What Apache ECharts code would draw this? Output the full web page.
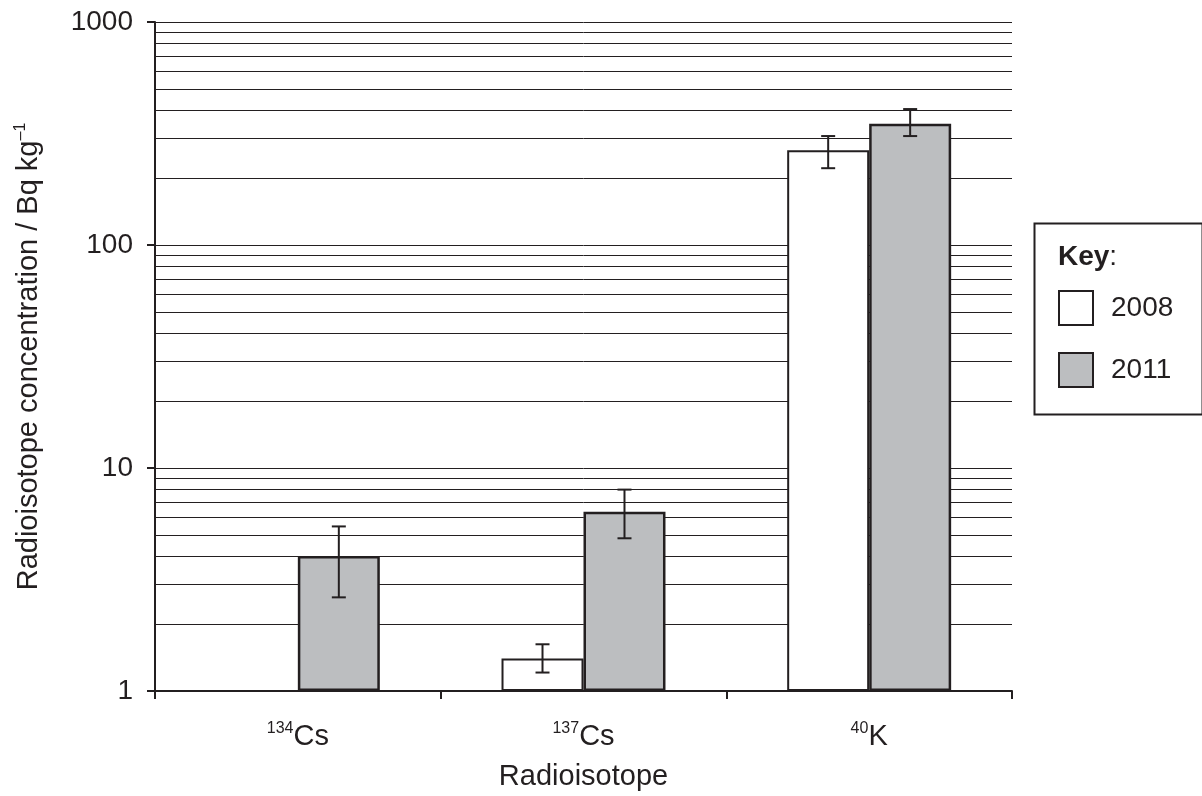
<!DOCTYPE html>
<html>
<head>
<meta charset="utf-8">
<script src="https://cdn.jsdelivr.net/npm/echarts@6/dist/echarts.min.js"></script>
<style>html,body{margin:0;padding:0;background:#fff}#c{width:1202px;height:796px}</style>
</head>
<body>
<div id="c"></div>
<script>
const categories = ['{s|134}{m|Cs}', '{s|137}{m|Cs}', '{s|40}{m|K}'];
const seriesNames = ['2008', '2011'];
const values2008 = [null, 1.40, 266];
const values2011 = [4.03, 6.37, 350];
const errLow2008 = [null, 1.21, 221];
const errHigh2008 = [null, 1.62, 308];
const errLow2011 = [2.63, 4.84, 308];
const errHigh2011 = [5.47, 8.0, 407];
const minorGrid = [2,3,4,5,6,7,8,9,20,30,40,50,60,70,80,90,200,300,400,500,600,700,800,900];

const INK = '#231f20';
const FONT = '"Liberation Sans", Arial, sans-serif';
const BARW = 0.287;

function errData(lo, hi) {
  const out = [];
  for (let i = 0; i < lo.length; i++) if (lo[i] != null) out.push([i, lo[i], hi[i]]);
  return out;
}
function errRender(sign) {
  return function (params, api) {
    const i = api.value(0);
    const band = api.size([1, 0])[0];
    const off = sign * band * BARW / 2;
    const p1 = api.coord([i, api.value(1)]);
    const p2 = api.coord([i, api.value(2)]);
    const x = p1[0] + off;
    const cap = 7;
    const st = { stroke: INK, lineWidth: 2 };
    return {
      type: 'group',
      children: [
        { type: 'line', shape: { x1: x, y1: p1[1], x2: x, y2: p2[1] }, style: st },
        { type: 'line', shape: { x1: x - cap, y1: p1[1], x2: x + cap, y2: p1[1] }, style: st },
        { type: 'line', shape: { x1: x - cap, y1: p2[1], x2: x + cap, y2: p2[1] }, style: st }
      ]
    };
  };
}

const chart = echarts.init(document.getElementById('c'), null, { renderer: 'canvas' });
chart.setOption({
  animation: false,
  backgroundColor: '#fff',
  textStyle: { fontFamily: FONT, color: INK },
  grid: { left: 155, right: 190, top: 22, bottom: 104 },
  xAxis: {
    type: 'category',
    data: categories,
    name: 'Radioisotope',
    nameLocation: 'middle',
    nameGap: 71,
    nameTextStyle: { fontSize: 29, color: INK, fontFamily: FONT },
    axisLine: { lineStyle: { color: INK, width: 2 } },
    axisTick: { show: true, length: 8, lineStyle: { color: INK, width: 2 } },
    axisLabel: {
      margin: 30,
      formatter: v => v,
      rich: {
        s: { fontSize: 16, color: INK, fontFamily: FONT, verticalAlign: 'top', padding: [0, 0, 15, 0] },
        m: { fontSize: 29, color: INK, fontFamily: FONT }
      }
    },
    splitLine: { show: false }
  },
  yAxis: {
    type: 'log',
    logBase: 10,
    min: 1,
    max: 1000,
    name: 'Radioisotope concentration / Bq kg{s|–1}',
    nameLocation: 'middle',
    nameRotate: 90,
    nameGap: 111,
    nameTextStyle: {
      fontSize: 29, color: INK, fontFamily: FONT,
      rich: {
        s: { fontSize: 16, color: INK, fontFamily: FONT, padding: [0, 0, 15, 0] }
      }
    },
    axisLine: { show: true, lineStyle: { color: INK, width: 2 } },
    axisTick: { show: true, length: 8, lineStyle: { color: INK, width: 2 } },
    axisLabel: { fontSize: 28, color: INK, fontFamily: FONT, margin: 22, formatter: v => String(v) },
    splitLine: { show: true, lineStyle: { color: INK, width: 1 } }
  },
  legend: {
    orient: 'vertical',
    left: 1058,
    top: 290,
    padding: 0,
    itemWidth: 34,
    itemHeight: 34,
    itemGap: 26,
    icon: 'rect',
    data: seriesNames,
    textStyle: { fontSize: 28, color: INK, fontFamily: FONT, padding: [0, 0, 0, 13] }
  },
  graphic: [
    { type: 'rect', left: 1032, top: 221, shape: { width: 168, height: 191 }, style: { fill: 'none', stroke: INK, lineWidth: 2 } },
    { type: 'text', left: 1058, top: 243, style: {
        text: '{b|Key}:', font: '28px ' + FONT, fill: INK,
        rich: { b: { fontWeight: 'bold', fontSize: 28, fontFamily: FONT, fill: INK } }
      } }
  ],
  series: [
    {
      name: '2008', type: 'bar', data: values2008, barWidth: (BARW * 100) + '%', barGap: '0%',
      itemStyle: { color: '#ffffff', borderColor: INK, borderWidth: 2 },
      markLine: {
        silent: true, symbol: 'none', z: 1, label: { show: false },
        lineStyle: { color: INK, width: 1, type: 'solid' },
        data: minorGrid.map(v => ({ yAxis: v }))
      },
      z: 2
    },
    {
      name: '2011', type: 'bar', data: values2011, barWidth: (BARW * 100) + '%', barGap: '0%',
      itemStyle: { color: '#bcbec0', borderColor: INK, borderWidth: 2.5 },
      z: 2
    },
    { type: 'custom', name: 'err2008', data: errData(errLow2008, errHigh2008), renderItem: errRender(-1), z: 3, encode: { x: 0, y: [1, 2] } },
    { type: 'custom', name: 'err2011', data: errData(errLow2011, errHigh2011), renderItem: errRender(1), z: 3, encode: { x: 0, y: [1, 2] } }
  ]
});
</script>
</body>
</html>
